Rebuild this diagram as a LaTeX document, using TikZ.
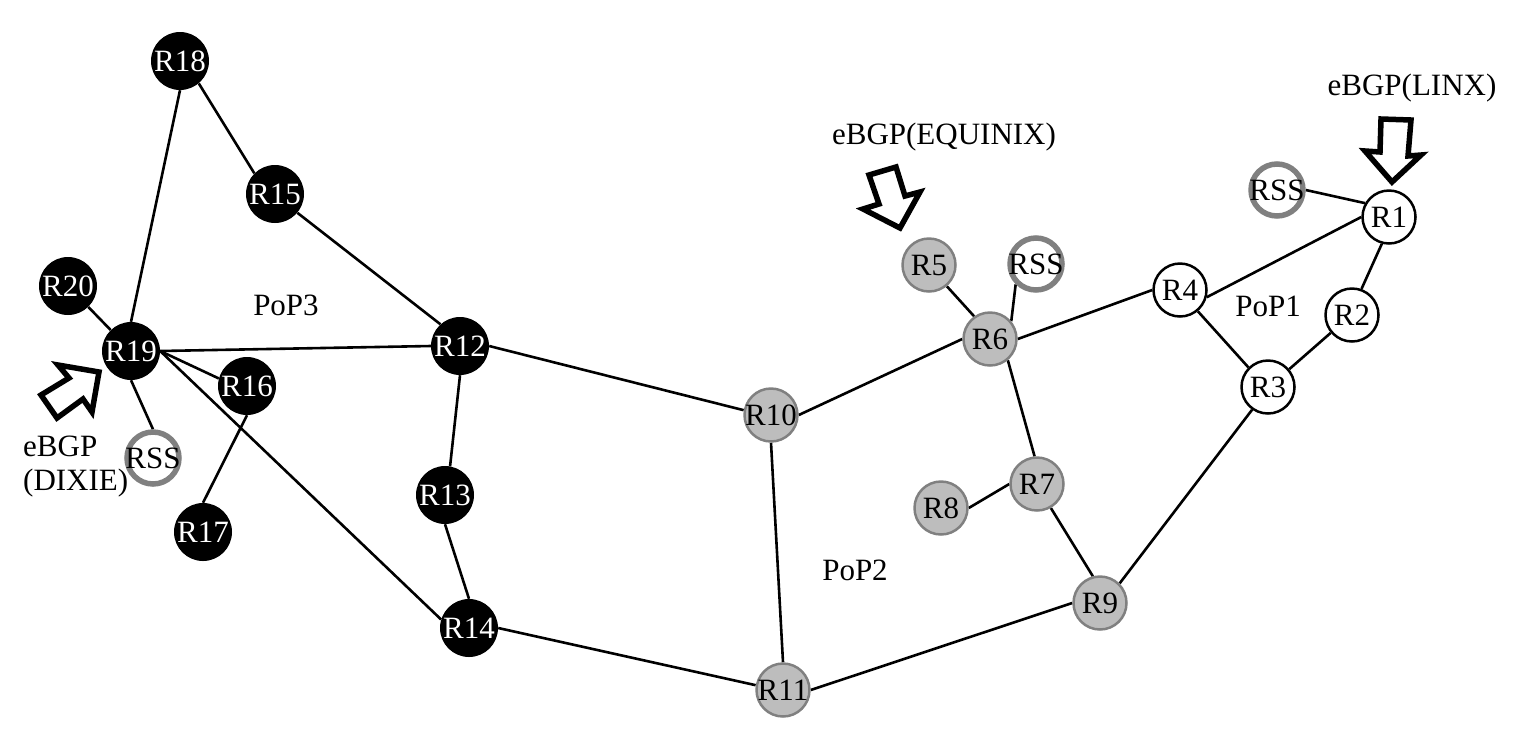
\documentclass[tikz,border=0pt]{standalone}
\usepackage{fontspec}
\setmainfont{Liberation Serif}
\usetikzlibrary{backgrounds}
\newcommand{\ctr}[1]{\makebox[0pt]{#1}}
\tikzset{
  x=1pt,y=-1pt,
  rtr/.style={circle,inner sep=0pt,font=\fontsize{31}{34}\selectfont},
  blk/.style={rtr,fill=black,text=white,minimum size=58pt},
  gry/.style={rtr,fill=nodegray,draw=edgegray,line width=2.5pt,minimum size=53pt},
  wht/.style={rtr,fill=white,draw=black,line width=2.5pt,minimum size=53pt},
  rss/.style={rtr,draw=edgegray,line width=5.5pt,minimum size=52pt},
  lnk/.style={line width=2.6pt,black},
  lab/.style={inner sep=0pt,font=\fontsize{31}{34}\selectfont},
  bigarrow/.style={line width=5.5pt,black,fill=white,miter limit=10,line join=miter}
}
\definecolor{nodegray}{HTML}{BDBDBD}
\definecolor{edgegray}{HTML}{808080}
\begin{document}
\begin{tikzpicture}
\useasboundingbox (0,0) rectangle (1522,748);
% PoP3
\node[blk] (R18) at (180,61) {\ctr{R18}};
\node[blk] (R15) at (275,194) {\ctr{R15}};
\node[blk] (R20) at (68,286) {\ctr{R20}};
\node[blk] (R19) at (131,351) {\ctr{R19}};
\node[blk] (R16) at (247,386) {\ctr{R16}};
\node[blk] (R12) at (460,346) {\ctr{R12}};
\node[blk] (R17) at (203,532) {\ctr{R17}};
\node[blk] (R13) at (445,495) {\ctr{R13}};
\node[blk] (R14) at (469,628) {\ctr{R14}};
\node[rss] (RSSa) at (153,458) {\ctr{RSS}};
% PoP2
\node[gry] (R10) at (771,415) {\ctr{R10}};
\node[gry] (R11) at (783,690) {\ctr{R11}};
\node[gry] (R5) at (929,265) {\ctr{R5}};
\node[gry] (R6) at (990,339) {\ctr{R6}};
\node[gry] (R7) at (1037,484) {\ctr{R7}};
\node[gry] (R8) at (941,508) {\ctr{R8}};
\node[gry] (R9) at (1100,603) {\ctr{R9}};
\node[rss] (RSSb) at (1036,264) {\ctr{RSS}};
% PoP1
\node[wht] (R4) at (1180,290) {\ctr{R4}};
\node[wht] (R3) at (1268,387) {\ctr{R3}};
\node[wht] (R2) at (1352,315) {\ctr{R2}};
\node[wht] (R1) at (1389,217) {\ctr{R1}};
\node[rss] (RSSc) at (1277,190) {\ctr{RSS}};
\begin{scope}[on background layer]
\draw[lnk] (R18.-50) -- (R15.135);
\draw[lnk] (R18.south) -- (R19.north);
\draw[lnk] (R15.-40) -- (R12.132);
\draw[lnk] (R20) -- (R19);
\draw[lnk] (R19.east) -- (R12.west);
\draw[lnk] (R19.east) -- (R16.165);
\draw[lnk] (R19.east) -- (R14.163);
\draw[lnk] (R19.south) -- (RSSa.north);
\draw[lnk] (R16.south) -- (R17.north);
\draw[lnk] (R12.south) -- (R13.80);
\draw[lnk] (R13.south) -- (R14.north);
\draw[lnk] (R12.east) -- (R10.170);
\draw[lnk] (R14.east) -- (R11.170);
\draw[lnk] (R10.south) -- (R11.north);
\draw[lnk] (R10.east) -- (R6.west);
\draw[lnk] (R11.east) -- (R9.west);
\draw[lnk] (R5.-50) -- (R6.125);
\draw[lnk] (R6.40) -- (RSSb.-135);
\draw[lnk] (R6.-50) -- (R7.95);
\draw[lnk] (R6.east) -- (R4.west);
\draw[lnk] (R7.west) -- (R8.east);
\draw[lnk] (R7.-60) -- (R9.105);
\draw[lnk] (R9.45) -- (R3.-125);
\draw[lnk] (R4.-50) -- (R3.135);
\draw[lnk] (R4.-15) -- (R1.west);
\draw[lnk] (R3.40) -- (R2.-140);
\draw[lnk] (R2.70) -- (R1.-105);
\draw[lnk] (RSSc.east) -- (R1.150);
\end{scope}
% labels
\node[lab] (linx) at (1412,88) {eBGP(LINX)};
\node[lab] (equinix) at (944,137) {eBGP(EQUINIX)};
\node[lab,align=left,anchor=north west] (dixie) at (23,436) {eBGP\\(DIXIE)};
\node[lab] (pop3) at (286,305) {PoP3};
\node[lab] (pop1) at (1268,306) {PoP1};
\node[lab] (pop2) at (855,570) {PoP2};
% block arrows
\draw[bigarrow] (1381,119) -- (1411,120) -- (1408,156) -- (1421,155) -- (1392,182) -- (1365,151) -- (1380,152) -- cycle;
\draw[bigarrow] (869,175) -- (896,167) -- (905,196) -- (920,192) -- (900,228) -- (863,209) -- (879,204) -- cycle;
\draw[bigarrow] (58,365) -- (99,372) -- (92,412) -- (83,399) -- (57,418) -- (41,395) -- (69,378) -- cycle;
\end{tikzpicture}
\end{document}
